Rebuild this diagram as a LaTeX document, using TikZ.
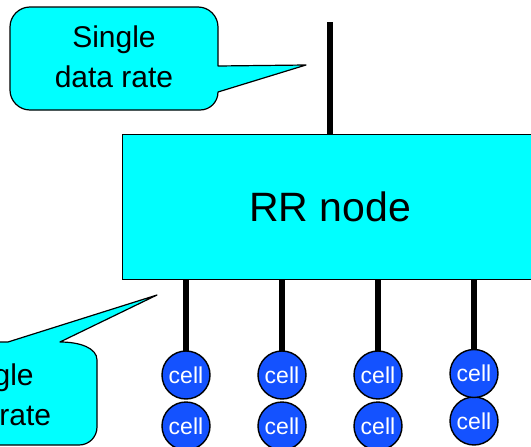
\documentclass[tikz,border=0pt]{standalone}
\usepackage{fontspec}
\setmainfont{Liberation Sans}
\definecolor{cyanfill}{RGB}{0,255,255}
\definecolor{cellblue}{RGB}{20,82,255}
\tikzset{
  callout/.style={fill=cyanfill, draw=black, line width=1.2pt, line join=round},
  ctext/.style={anchor=base, inner sep=0pt, font=\fontsize{30}{36}\selectfont},
  rrbox/.style={rectangle, fill=cyanfill, draw=black, line width=1pt,
    minimum width=416pt, minimum height=145pt, inner sep=0pt, outer sep=0pt,
    font=\fontsize{41}{49}\selectfont},
  cellnode/.style={circle, fill=cellblue, draw=black, line width=1.4pt,
    minimum size=48pt, inner sep=0pt, outer sep=0pt, text=white,
    font=\fontsize{23}{27}\selectfont},
  stem/.style={line width=5.5pt},
}
\begin{document}
\begin{tikzpicture}[x=1pt,y=-1pt]
\useasboundingbox (0,0) rectangle (531,447);
\clip (0,0) rectangle (531,447);
\fill[white] (0,0) rectangle (531,447);

% top callout
\draw[callout] (30,7) -- (198,7) .. controls (209,7) and (218,16) .. (218,27)
  -- (218,66) -- (306,65) -- (218,92)
  .. controls (218,102) and (210,110) .. (200,110)
  -- (30,110) .. controls (19,110) and (10,101) .. (10,90)
  -- (10,27) .. controls (10,16) and (19,7) .. (30,7) -- cycle;
\node[ctext] (t1) at (114,48) {Single};
\node[ctext] (t2) at (114,87) {data rate};

% bottom callout
\draw[callout] (-93,342) -- (8,342) -- (157,295) -- (60,342)
  .. controls (80,342) and (97,348) .. (97,360)
  -- (97,427) .. controls (97,437) and (89,445) .. (79,445)
  -- (-93,445) .. controls (-104,445) and (-113,436) .. (-113,425)
  -- (-113,362) .. controls (-113,351) and (-104,342) .. (-93,342) -- cycle;
\node[ctext] (b1) at (-8,385) {Single};
\node[ctext] (b2) at (-8,425) {data rate};

% RR node
\node[rrbox] (rr) at (330,206.5) {RR node};
\coordinate (top) at (330,22);
\draw[stem] (top) -- (rr.north);

% cells
\foreach \i/\x/\ya/\yb in {1/186/375/426, 2/282/375/426, 3/378/375/426, 4/474/373.5/421}{
  \node[cellnode] (c\i b) at (\x,\yb) {cell};
  \node[cellnode] (c\i a) at (\x,\ya) {cell};
  \draw[stem] (c\i a.north) -- (c\i a.north |- rr.south);
}
\end{tikzpicture}
\end{document}
